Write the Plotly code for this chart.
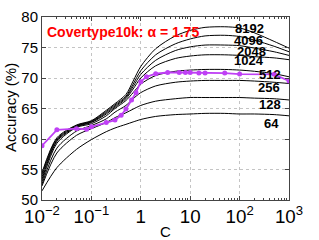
import plotly.graph_objects as go

# ---- data ----
C_grid = [0.01, 0.02, 0.05, 0.1, 0.2, 0.3, 0.5, 0.7, 1, 2, 5, 10, 20, 50, 100, 200, 500, 1000]
acc_8192 = [54.5, 60.2, 62.3, 63.0, 64.7, 65.8, 67.3, 69.5, 71.9, 74.8, 76.9, 77.8, 78.3, 78.4, 78.2, 77.4, 76.0, 74.9]
acc_4096 = [54.2, 60.0, 62.2, 62.9, 64.5, 65.6, 67.0, 69.0, 71.2, 73.8, 75.6, 76.4, 76.9, 77.0, 76.8, 76.2, 75.2, 74.3]
acc_2048 = [53.8, 59.8, 62.1, 62.8, 64.3, 65.4, 66.8, 68.6, 70.6, 72.9, 74.5, 75.1, 75.4, 75.4, 75.3, 74.9, 74.3, 73.7]
acc_1024 = [53.4, 59.6, 62.0, 62.7, 64.1, 65.2, 66.6, 68.2, 70.0, 72.0, 73.2, 73.6, 73.8, 73.8, 73.7, 73.5, 73.3, 73.0]
acc_512 = [53.0, 59.3, 61.9, 62.5, 63.8, 65.0, 66.3, 67.6, 69.0, 70.4, 71.1, 71.3, 71.4, 71.4, 71.3, 71.1, 70.7, 70.2]
acc_256 = [52.6, 58.5, 61.3, 62.2, 63.3, 64.4, 65.5, 66.6, 67.6, 68.7, 69.3, 69.5, 69.6, 69.6, 69.6, 69.5, 69.3, 69.1]
acc_128 = [52.3, 57.7, 60.6, 61.7, 62.7, 63.5, 64.3, 64.9, 65.5, 66.2, 66.6, 66.8, 66.8, 66.8, 66.8, 66.7, 66.6, 66.4]
acc_64 = [51.5, 55.3, 58.3, 59.9, 61.2, 61.8, 62.4, 62.8, 63.2, 63.7, 64.0, 64.1, 64.2, 64.2, 64.1, 64.1, 64.0, 63.8]
series_names = ["8192", "4096", "2048", "1024", "512", "256", "128", "64"]
series_vals = [acc_8192, acc_4096, acc_2048, acc_1024, acc_512, acc_256, acc_128, acc_64]

C_svm = [0.01, 0.02, 0.05, 0.08, 0.1, 0.2, 0.3, 0.4, 0.5, 0.65, 0.8, 1, 1.3, 2, 3.5, 6, 8, 10, 15, 20, 50, 100, 500, 1000]
acc_svm = [58.9, 61.5, 61.7, 61.6, 62.0, 62.7, 63.1, 63.9, 64.9, 66.4, 67.6, 69.4, 70.2, 70.7, 70.9, 70.9, 70.9, 70.9, 70.8, 70.8, 70.8, 70.65, 70.6, 69.5]

title_text = "Covertype10k: \u03b1 = 1.75"
y_ticks = [50, 55, 60, 65, 70, 75, 80]

# ---- layout geometry (pixels) ----
W, H = 319, 240
L, R, T, B = 42, 289, 17, 200

def px(x):
    return (x - L) / (R - L)

def py(y):
    return (B - y) / (B - T)

fig = go.Figure()
for name, vals in zip(series_names, series_vals):
    fig.add_trace(go.Scatter(x=C_grid, y=vals, mode="lines", name=name,
                             line=dict(color="black", width=1, shape="spline", smoothing=0.8),
                             showlegend=False, hoverinfo="skip"))

purple = "#bf40f5"
fig.add_trace(go.Scatter(x=C_svm, y=acc_svm, mode="lines+markers",
                         line=dict(color=purple, width=1.8),
                         marker=dict(color=purple, size=5),
                         showlegend=False))

font_fam = "Liberation Sans, Arial, Helvetica, sans-serif"
label_pos = {"8192": (249, 29), "4096": (248, 40.5), "2048": (251, 51), "1024": (249, 60.5),
             "512": (270, 74), "256": (269, 87), "128": (270, 104.5), "64": (271, 123.5)}
annotations = []
for name in series_names:
    x0, y0 = label_pos[name]
    annotations.append(dict(x=px(x0), y=py(y0), xref="paper", yref="paper", text="<b>%s</b>" % name,
                            showarrow=False, xanchor="center", yanchor="middle", borderpad=0,
                            font=dict(family=font_fam, size=13, color="black")))
annotations.append(dict(x=px(45), y=py(32), xref="paper", yref="paper", text="<b>%s</b>" % title_text,
                        showarrow=False, xanchor="left", yanchor="middle",
                        font=dict(family=font_fam, size=14, color="#ff0000")))
annotations.append(dict(x=px(10), y=py(108), xref="paper", yref="paper", text="Accuracy (%)",
                        showarrow=False, textangle=-90, xanchor="center", yanchor="middle",
                        font=dict(family=font_fam, size=15, color="black")))
annotations.append(dict(x=px(165), y=py(231), xref="paper", yref="paper", text="C",
                        showarrow=False, xanchor="center", yanchor="middle",
                        font=dict(family=font_fam, size=15, color="black")))

axis_common = dict(showline=True, linecolor="#444444", linewidth=1, mirror="ticks",
                   ticks="inside", ticklen=4, tickcolor="#444444",
                   showgrid=True, gridcolor="#c4c4c4", griddash="dot", gridwidth=1,
                   zeroline=False, automargin=False,
                   tickfont=dict(family=font_fam, size=15, color="black"))

fig.update_layout(
    width=W, height=H,
    margin=dict(l=L, r=W - R, t=T, b=H - B, pad=0),
    paper_bgcolor="white", plot_bgcolor="white",
    annotations=annotations,
    xaxis=dict(type="log", range=[-2, 3], dtick=1, exponentformat="power",
               minor=dict(ticks="inside", ticklen=2, tickcolor="#444444", showgrid=False),
               **axis_common),
    yaxis=dict(range=[50, 80], tickvals=y_ticks, **axis_common),
)

fig.write_html("out.html", config={"displayModeBar": False},
               post_script="document.body.style.margin='0px';document.body.style.padding='0px';")
